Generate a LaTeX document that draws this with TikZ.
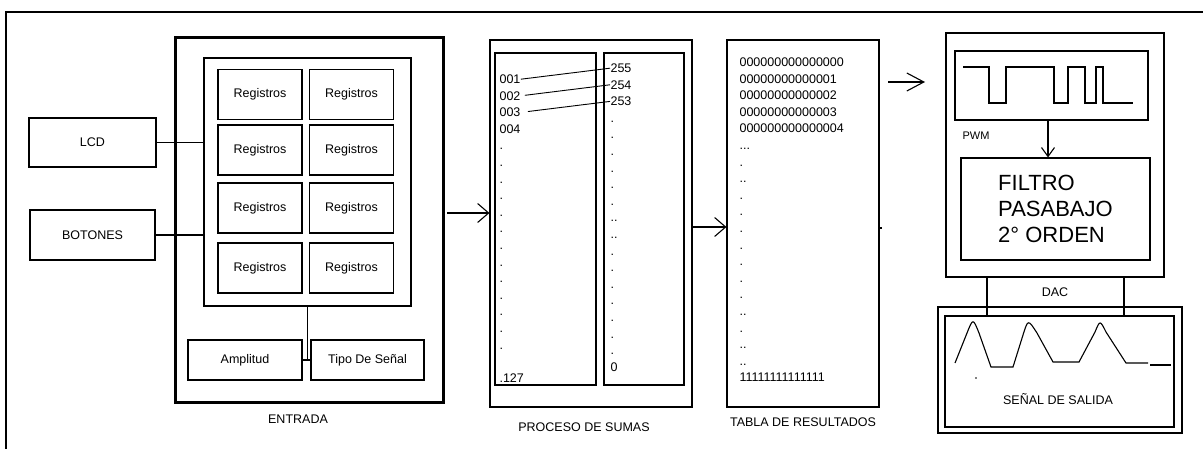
\documentclass[tikz,border=0pt]{standalone}
\usepackage{fontspec}
\setmainfont{Liberation Sans}
\usetikzlibrary{arrows.meta}

\begin{document}
\begin{tikzpicture}[x=1pt, y=-1pt, line width=1.1pt,
  font=\fontsize{12.5}{15}\selectfont,
  caja/.style={draw, inner sep=0pt},
  fila/.style={anchor=base west, inner sep=0pt},
  flecha/.style={-{Straight Barb[length=11pt,width=19pt]}}]
\useasboundingbox (0,0) rectangle (1203,449);

% marco exterior
\draw[line width=2pt] (1210,12) -- (6,12) -- (6,455);

% ENTRADA
\node[caja, line width=3pt, minimum width=268, minimum height=364] (entrada) at (309,220) {};
\node (lentrada) at (298,419) {ENTRADA};
\node[caja, minimum width=207, minimum height=248] (regs) at (307.5,182) {};
\foreach \y [count=\i] in {94.5,150,208,268}
  \foreach \x [count=\j] in {260,351.5}
    \node[caja, minimum width=84, minimum height=50] (r\i\j) at (\x,\y) {Registros};
\node[caja, minimum width=127, minimum height=49] (lcd) at (92.5,142.5) {LCD};
\node[caja, minimum width=125, minimum height=50] (botones) at (92.5,235) {BOTONES};
\draw (lcd.east) -- (lcd.east -| regs.west);
\draw (botones.east) -- (botones.east -| regs.west);
\node[caja, minimum width=114, minimum height=40] (amplitud) at (245,360) {Amplitud};
\node[caja, minimum width=113, minimum height=40] (tipo) at (367.5,360) {Tipo De Señal};
\draw (regs.south) -- (regs.south |- amplitud.east);
\draw (amplitud.east) -- (tipo.west);

% PROCESO DE SUMAS
\node[caja, minimum width=202, minimum height=367] (proceso) at (591,223.5) {};
\node (lproceso) at (584,427) {PROCESO DE SUMAS};
\node[caja, minimum width=101, minimum height=332] (colizq) at (545.5,219) {};
\node[caja, minimum width=80, minimum height=332] (colder) at (644,219) {};
\foreach \t [count=\i] in {001,002,003,004,.,.,.,.,.,.,.,.,.,.,.,.,.,{},.127}
  \node[fila] (iz\i) at (499,{66.9+16.6*\i}) {\t};
\foreach \t [count=\i] in {255,254,253,.,.,.,.,.,.,{..},{..},.,.,.,.,.,.,.,0}
  \node[fila] (de\i) at (610,{55.9+16.6*\i}) {\t};
\draw[line width=0.9pt] (iz1.east) -- (de1.west);
\draw[line width=0.9pt, shorten <=4pt] (iz2.east) -- (de2.west);
\draw[line width=0.9pt, shorten <=7pt] (iz3.east) -- (de3.west);

% TABLA DE RESULTADOS
\node[caja, minimum width=152, minimum height=367] (tabla) at (803,223.5) {};
\node (ltabla) at (803,422) {TABLA DE RESULTADOS};
\foreach \t [count=\i] in {000000000000000,00000000000001,00000000000002,00000000000003,000000000000004,{.{}..},.,{..},.,.,.,.,.,.,.,{..},.,{..},{..},11111111111111}
  \node[fila] (ta\i) at (739,{49.9+16.6*\i}) {\t};
\draw (tabla.east) ++(0,4.5) -- ++(2,0);

% flechas
\coordinate (a1) at ([yshift=7pt]entrada.east);
\draw[flecha, shorten <=2.5pt] (a1) -- (a1 -| proceso.west);
\coordinate (a2) at ([yshift=-3.5pt]proceso.east);
\draw[flecha] (a2) -- (a2 -| tabla.west);
\coordinate (s1) at (888,82);
\coordinate (s2) at (925,82);
\draw[-{Straight Barb[length=17pt,width=18pt]}] (s1) -- (s2);

% DAC
\node[caja, minimum width=218, minimum height=244] (dac) at (1055,155) {};
\node[caja, minimum width=193, minimum height=69] (pwm) at (1051.5,85.5) {};
\draw (963,67) -| (989,103) -| (1006,67) -| (1054,103) -| (1068,67) -| (1085,103) -| (1096,67) -| (1103,103) -- (1133,103);
\node[anchor=west, inner sep=0pt, font=\fontsize{11}{13}\selectfont] (lpwm) at (962,136) {PWM};
\node[caja, minimum width=189, minimum height=102, align=left, font=\fontsize{22}{26}\selectfont] (filtro) at (1055.5,209) {FILTRO\\PASABAJO\\2° ORDEN};
\coordinate (a4) at ([xshift=-3.5pt]pwm.south);
\draw[-{Straight Barb[length=9pt,width=13pt]}] (a4) -- (a4 |- filtro.north);
\node (ldac) at (1055,292) {DAC};

% SEÑAL DE SALIDA
\node[caja, minimum width=244, minimum height=126] (salida) at (1060,370) {};
\node[caja, minimum width=229, minimum height=111] (interior) at (1059.5,371.5) {};
\node (lsalida) at (1058,399) {SEÑAL DE SALIDA};
\foreach \dx [count=\i] in {-68,69} {
  \coordinate (d\i) at ([xshift=\dx pt]dac.south);
  \draw (d\i) -- (d\i |- interior.north);
}
\draw (955,363) -- (967,333) .. controls (973,318) .. (979,333) -- (991,367) -- (1013,367)
  -- (1023,335) .. controls (1028,319) .. (1037,333) -- (1053,362) -- (1079,362)
  -- (1095,332) .. controls (1100,320) .. (1106,332) -- (1126,363) -- (1148,363);
\draw (1150,365) -- (1171,365);
\fill (976,378) circle (0.8);

\end{tikzpicture}
\end{document}
